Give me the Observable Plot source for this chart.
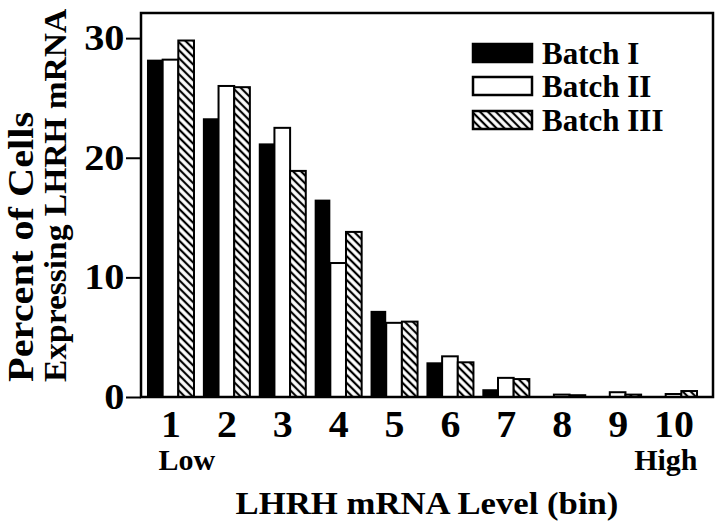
<!DOCTYPE html>
<html>
<head>
<meta charset="utf-8">
<script src="https://cdn.jsdelivr.net/npm/d3@7"></script>
<script src="https://cdn.jsdelivr.net/npm/@observablehq/plot@0.6"></script>
<style>
  html, body { margin: 0; padding: 0; background: white; }
</style>
</head>
<body>
<div id="chart"></div>
<script>
const bins = [1, 2, 3, 4, 5, 6, 7, 8, 9, 10];
const batchNames = ["Batch I", "Batch II", "Batch III"];
const batchI   = [28.2, 23.3, 21.2, 16.5, 7.2, 2.9, 0.65, 0.05, 0.0, 0.0];
const batchII  = [28.2, 26.0, 22.5, 11.2, 6.2, 3.4, 1.6, 0.2, 0.4, 0.25];
const batchIII = [29.8, 25.9, 18.9, 13.8, 6.3, 2.9, 1.5, 0.15, 0.2, 0.5];
const yTicks = [0, 10, 20, 30];
const endLabels = [{bin: 1, text: "Low"}, {bin: 10, text: "High"}];
const yTitle1 = "Percent of Cells";
const yTitle2 = "Expressing LHRH mRNA";
const xTitle = "LHRH mRNA Level (bin)";

const series = [batchI, batchII, batchIII];
const rows = bins.flatMap((b, i) => batchNames.map((name, j) => ({bin: b, batch: name, value: series[j][i]})));
const fills = ["black", "white", "url(#hatch)"];

const font = "'Liberation Serif', 'Times New Roman', serif";

const plot = Plot.plot({
  width: 720,
  height: 526,
  marginLeft: 141,
  marginRight: 17,
  marginTop: 13,
  marginBottom: 129,
  style: {fontFamily: font, fontWeight: "bold", color: "black", background: "white", overflow: "visible"},
  fx: {domain: bins, paddingInner: 0.159, paddingOuter: 0.107, round: false, label: null},
  x: {domain: batchNames, padding: 0, round: false, axis: null},
  y: {domain: [0, 32.1], label: null},
  marks: [
    ...batchNames.map((name, j) => Plot.barY(rows.filter(d => d.batch === name), {
      fx: "bin", x: "batch", y: "value",
      fill: fills[j],
      stroke: j === 0 ? "none" : "black",
      strokeWidth: 2
    })),
    Plot.axisY({ticks: yTicks, tickSize: 15, tickPadding: 2, fontSize: 36, strokeWidth: 2, dx: -6, label: null}),
    Plot.axisFx({anchor: "bottom", tickSize: 0, tickPadding: 13, fontSize: 38, label: null}),
    Plot.text(endLabels.filter(d => d.bin === 1), {fx: "bin", text: "text", frameAnchor: "bottom-left", textAnchor: "start", dx: 11, dy: 72, fontSize: 30}),
    Plot.text(endLabels.filter(d => d.bin === 10), {fx: "bin", text: "text", frameAnchor: "bottom-right", textAnchor: "end", dx: 0, dy: 72, fontSize: 30})
  ]
});

const svg = d3.select(plot);

// hatch pattern
const defs = svg.insert("defs", ":first-child");
const pat = defs.append("pattern")
  .attr("id", "hatch")
  .attr("patternUnits", "userSpaceOnUse")
  .attr("width", 8).attr("height", 5.6)
  .attr("patternTransform", "rotate(45)");
pat.append("rect").attr("width", 8).attr("height", 5.6).attr("fill", "white");
pat.append("line").attr("x1", -1).attr("x2", 9).attr("y1", 2.8).attr("y2", 2.8)
  .attr("stroke", "black").attr("stroke-width", 2.2);

// widen text glyphs to match the reference's wide bold serif
function stretch(el, s) {
  const xa = el.getAttribute("x");
  let tx = 0;
  if (xa != null && xa !== "" && !isNaN(+xa)) { tx = +xa; el.removeAttribute("x"); }
  const t = el.getAttribute("transform") || "";
  el.setAttribute("transform", `${t} translate(${tx},0) scale(${s},1)`);
}
svg.selectAll('g[aria-label="y-axis tick label"] text').each(function() { stretch(this, 1.12); });
svg.selectAll('g[aria-label="fx-axis tick label"] text').each(function() { stretch(this, 1.05); });

// frame
svg.append("rect")
  .attr("x", 141).attr("y", 13).attr("width", 572).attr("height", 384)
  .attr("fill", "none").attr("stroke", "black").attr("stroke-width", 2.5);

// legend
const lg = svg.append("g").attr("font-family", font).attr("font-weight", "bold").attr("text-anchor", "start");
batchNames.forEach((name, j) => {
  const yb = [64, 97, 131][j];
  lg.append("rect")
    .attr("x", 473).attr("y", yb - 20).attr("width", 59).attr("height", 18)
    .attr("fill", fills[j]).attr("stroke", "black").attr("stroke-width", 2.5);
  lg.append("text").attr("x", 542).attr("y", yb).attr("font-size", 31)
    .attr("text-anchor", "start").attr("fill", "black").text(name);
});

// axis titles
svg.append("text")
  .attr("transform", "translate(33,382) rotate(-90) scale(1.12,1)")
  .attr("font-family", font).attr("font-weight", "bold").attr("font-size", 36)
  .attr("text-anchor", "start").attr("fill", "black").text(yTitle1);
svg.append("text")
  .attr("transform", "translate(66,382) rotate(-90) scale(1.08,1)")
  .attr("font-family", font).attr("font-weight", "bold").attr("font-size", 31)
  .attr("text-anchor", "start").attr("fill", "black").text(yTitle2);
svg.append("text")
  .attr("transform", "translate(427,514) scale(1.12,1)")
  .attr("font-family", font).attr("font-weight", "bold").attr("font-size", 31)
  .attr("text-anchor", "middle").attr("fill", "black").text(xTitle);

document.getElementById("chart").appendChild(plot);
</script>
</body>
</html>
